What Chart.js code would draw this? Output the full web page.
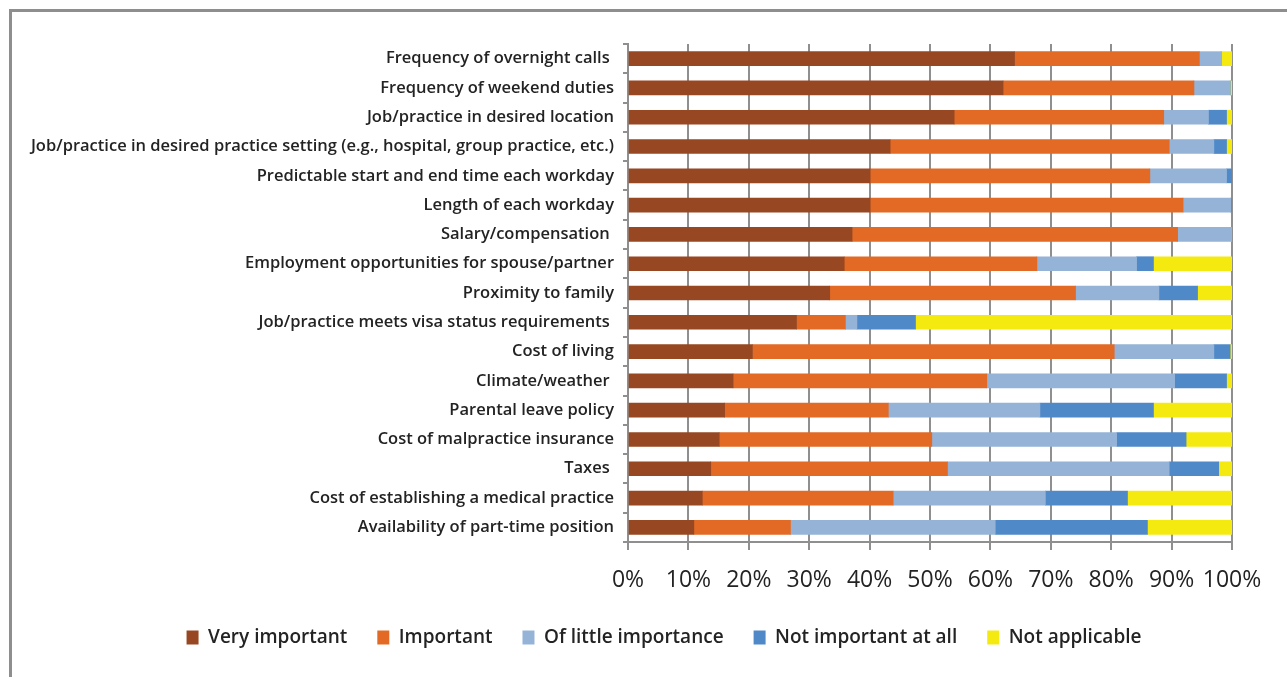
<!DOCTYPE html>
<html>
<head>
<meta charset="utf-8">
<title>Importance of job factors</title>
<script src="https://cdn.jsdelivr.net/npm/chart.js@4.4.1/dist/chart.umd.min.js"></script>
<style>
  html, body { margin: 0; padding: 0; background: #ffffff; }
  body { width: 1287px; height: 677px; position: relative; overflow: hidden; }
  #frame {
    position: absolute; left: 9px; top: 9px; width: 1300px; height: 700px;
    border-top: 3px solid #8e8e8e; border-left: 3px solid #8e8e8e;
  }
  #chart { position: absolute; left: 0; top: 0; }
</style>
</head>
<body>
<div id="frame"></div>
<canvas id="chart" width="1287" height="677"></canvas>
<script>
// ======================================================
// 1. Data (percent of respondents per factor)
// ======================================================

const categories = [
  'Frequency of overnight calls ',
  'Frequency of weekend duties',
  'Job/practice in desired location',
  'Job/practice in desired practice setting (e.g., hospital, group practice, etc.)',
  'Predictable start and end time each workday',
  'Length of each workday',
  'Salary/compensation ',
  'Employment opportunities for spouse/partner',
  'Proximity to family',
  'Job/practice meets visa status requirements ',
  'Cost of living',
  'Climate/weather ',
  'Parental leave policy',
  'Cost of malpractice insurance',
  'Taxes ',
  'Cost of establishing a medical practice',
  'Availability of part-time position'
];

const veryImportant     = [64.0, 62.1, 54.0, 43.4, 40.1, 40.1, 37.1, 35.8, 33.4, 27.9, 20.6, 17.4, 16.0, 15.1, 13.7, 12.3, 10.9];
const important         = [30.6, 31.6, 34.7, 46.2, 46.3, 51.8, 53.9, 31.9, 40.7,  8.1, 59.9, 42.0, 27.1, 35.2, 39.2, 31.6, 16.0];
const littleImportance  = [ 3.6,  6.0,  7.4,  7.4, 12.7,  7.9,  9.0, 16.5, 13.8,  1.9, 16.5, 31.1, 25.1, 30.6, 36.7, 25.2, 33.9];
const notImportant      = [ 0.0,  0.0,  3.0,  2.1,  0.9,  0.2,  0.0,  2.8,  6.4,  9.7,  2.7,  8.6, 18.8, 11.5,  8.2, 13.6, 25.2];
const notApplicable     = [ 1.8,  0.3,  0.9,  0.9,  0.0,  0.0,  0.0, 13.0,  5.7, 52.4,  0.3,  0.9, 13.0,  7.6,  2.2, 17.3, 14.0];

const seriesNames = ['Very important', 'Important', 'Of little importance', 'Not important at all', 'Not applicable'];
const seriesColors = ['#974721', '#e26a25', '#94b3d7', '#4f89c8', '#f5ea10'];
const seriesValues = [veryImportant, important, littleImportance, notImportant, notApplicable];

const tickStep = 10;
const tickMax = 100;

// ======================================================
// 2. Chart
// ======================================================

const FONT = '"Open Sans", Lato, sans-serif';
const AXIS_GREY = '#8f8f8f';
const TEXT = '#232323';

const datasets = seriesNames.map((name, i) => ({
  label: name,
  data: seriesValues[i],
  backgroundColor: seriesColors[i],
  borderWidth: 0,
  barThickness: 14
}));

// long category names run past the y scale box; let them draw up to the frame
const wideLabels = {
  id: 'wideLabels',
  afterLayout: chart => { chart.scales.y.left = 0; }
};

const ctx = document.getElementById('chart').getContext('2d');
const chart = new Chart(ctx, {
  type: 'bar',
  data: { labels: categories, datasets: datasets },
  plugins: [wideLabels],
  options: {
    indexAxis: 'y',
    responsive: false,
    animation: false,
    layout: {
      padding: { top: 44, left: 96, right: 55, bottom: 20 }
    },
    plugins: {
      tooltip: { enabled: false },
      legend: {
        position: 'bottom',
        labels: {
          boxWidth: 12,
          boxHeight: 14,
          padding: 30,
          color: TEXT,
          font: { family: FONT, size: 19, weight: 600 }
        }
      }
    },
    scales: {
      x: {
        stacked: true,
        min: 0,
        max: tickMax,
        ticks: {
          stepSize: tickStep,
          autoSkip: false,
          maxRotation: 0,
          padding: 17,
          color: TEXT,
          font: { family: FONT, size: 23 },
          callback: v => v + '%'
        },
        grid: { color: AXIS_GREY, lineWidth: 2, tickLength: 8 },
        border: { color: AXIS_GREY, width: 2 },
        afterFit: scale => { scale.height = 56; }
      },
      y: {
        stacked: true,
        ticks: {
          autoSkip: false,
          padding: 9,
          color: TEXT,
          font: { family: FONT, size: 16.5, weight: 600 }
        },
        grid: { drawOnChartArea: false, color: AXIS_GREY, lineWidth: 2, tickLength: 5 },
        border: { color: AXIS_GREY, width: 2 },
        afterFit: scale => { scale.width = 628 - 96; }
      }
    }
  }
});
</script>
</body>
</html>
